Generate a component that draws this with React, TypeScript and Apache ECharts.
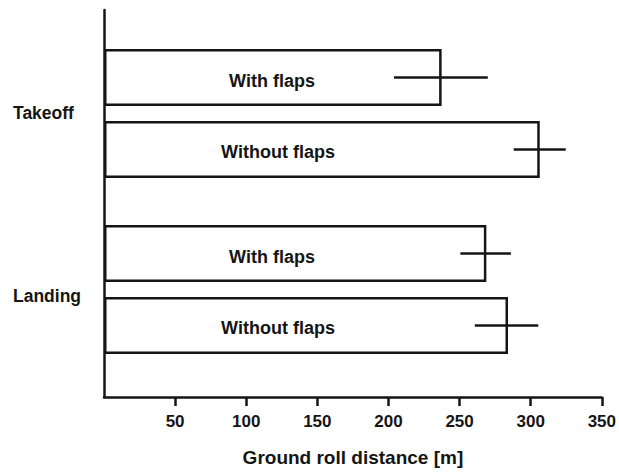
import React, { useEffect, useRef } from "react";
import * as echarts from "echarts";

const categories = ["Takeoff", "Landing"];
const seriesNames = ["With flaps", "Without flaps"];
const withFlaps = [234, 265];
const withoutFlaps = [302, 280];
const withFlapsErr = [
  [201, 266],
  [247, 282],
];
const withoutFlapsErr = [
  [284, 320],
  [257, 301],
];
const xTicks = [0, 50, 100, 150, 200, 250, 300, 350];

const INK = "#151515";
const FONT = "'Liberation Sans', Arial, sans-serif";
const BAR_W = 57;
const BAR_GAP = 0.26;

export default function App() {
  const ref = useRef<HTMLDivElement>(null);

  useEffect(() => {
    if (!ref.current) return;
    const chart = echarts.init(ref.current, null, { renderer: "svg" });

    const errSeries = (name: string, errs: number[][], side: number) => ({
      type: "custom",
      name: name + " error",
      xAxisIndex: 0,
      yAxisIndex: 0,
      z: 5,
      encode: { x: [1, 2], y: 0 },
      data: errs.map((e, i) => [i, e[0], e[1]]),
      renderItem: (params: any, api: any) => {
        const cat = api.value(0);
        const p1 = api.coord([api.value(1), cat]);
        const p2 = api.coord([api.value(2), cat]);
        const off = (side * (BAR_W + BAR_W * BAR_GAP)) / 2;
        return {
          type: "line",
          shape: { x1: p1[0], y1: p1[1] + off, x2: p2[0], y2: p2[1] + off },
          style: { stroke: INK, lineWidth: 2.5 },
        };
      },
    });

    const barSeries = (name: string, values: number[], labelX: number) => ({
      type: "bar",
      name,
      xAxisIndex: 0,
      yAxisIndex: 0,
      barWidth: BAR_W,
      barGap: BAR_GAP * 100 + "%",
      data: values,
      itemStyle: { color: "#ffffff", borderColor: INK, borderWidth: 2.5 },
      label: {
        show: true,
        formatter: "{a}",
        position: [labelX, "50%"],
        align: "center",
        verticalAlign: "middle",
        offset: [0, 3],
        color: INK,
        fontFamily: FONT,
        fontWeight: "bold",
        fontSize: 18,
      },
    });

    chart.setOption({
      animation: false,
      backgroundColor: "#ffffff",
      grid: [
        { left: 104, right: 10, top: 25.5, bottom: 94.5 },
        { left: 104, right: 10, top: 10, bottom: 74 },
      ],
      xAxis: [
        {
          type: "value",
          gridIndex: 0,
          min: 0,
          max: 350,
          interval: 50,
          show: false,
        },
        {
          type: "value",
          gridIndex: 1,
          min: xTicks[0],
          max: xTicks[xTicks.length - 1],
          interval: 50,
          name: "Ground roll distance [m]",
          nameLocation: "middle",
          nameGap: 51,
          nameTextStyle: {
            color: INK,
            fontFamily: FONT,
            fontWeight: "bold",
            fontSize: 19,
          },
          axisLine: { show: true, lineStyle: { color: INK, width: 2.5 } },
          axisTick: { show: true, length: 9, lineStyle: { color: INK, width: 2.5 } },
          axisLabel: {
            showMinLabel: false,
            margin: 16,
            color: INK,
            fontFamily: FONT,
            fontWeight: "bold",
            fontSize: 17,
          },
          splitLine: { show: false },
        },
      ],
      yAxis: [
        {
          type: "category",
          gridIndex: 0,
          data: categories,
          inverse: true,
          axisLine: { show: false },
          axisTick: { show: false },
          axisLabel: {
            margin: 91,
            align: "left",
            formatter: (v: string) => (v === categories[1] ? `{d|${v}}` : `{n|${v}}`),
            rich: {
              n: {
                color: INK,
                fontFamily: FONT,
                fontWeight: "bold",
                fontSize: 17.5,
                padding: [0, 0, 2, 0],
              },
              d: {
                color: INK,
                fontFamily: FONT,
                fontWeight: "bold",
                fontSize: 17.5,
                padding: [13, 0, 0, 0],
              },
            },
          },
        },
        {
          type: "value",
          gridIndex: 1,
          min: 0,
          max: 1,
          axisLine: { show: true, onZero: false, lineStyle: { color: INK, width: 2.5 } },
          axisTick: { show: false },
          axisLabel: { show: false },
          splitLine: { show: false },
        },
      ],
      series: [
        barSeries(seriesNames[0], withFlaps, 168),
        barSeries(seriesNames[1], withoutFlaps, 174),
        errSeries(seriesNames[0], withFlapsErr, -1),
        errSeries(seriesNames[1], withoutFlapsErr, 1),
      ],
    });

    return () => chart.dispose();
  }, []);

  return (
    <div
      ref={ref}
      style={{ position: "absolute", left: 0, top: 0, width: 619, height: 472, background: "#fff" }}
    />
  );
}
